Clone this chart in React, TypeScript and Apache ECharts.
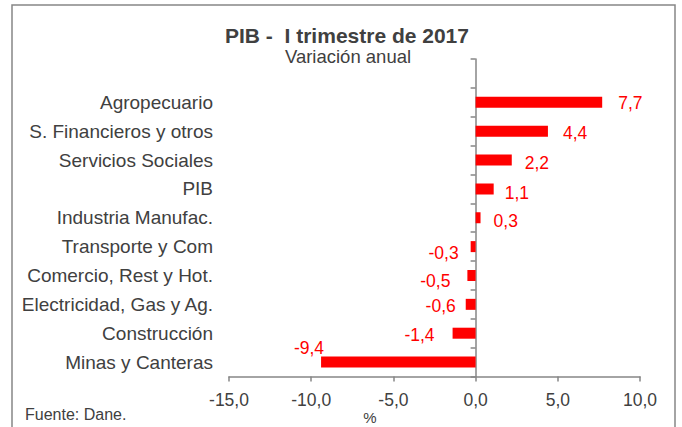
import React, { useEffect, useRef } from "react";
import * as echarts from "echarts";

const categories = [
  "",
  "Agropecuario",
  "S. Financieros y otros",
  "Servicios Sociales",
  "PIB",
  "Industria Manufac.",
  "Transporte y Com",
  "Comercio, Rest y Hot.",
  "Electricidad, Gas y Ag.",
  "Construcción",
  "Minas y Canteras",
];
const values: (number | null)[] = [null, 7.7, 4.4, 2.2, 1.1, 0.3, -0.3, -0.5, -0.6, -1.4, -9.4];
const xTicks = { min: -15, max: 10, interval: 5 };
const titleText = "PIB -  I trimestre de 2017";
const subtitleText = "Variación anual";
const sourceText = "Fuente: Dane.";
const axisUnit = "%";

// label placement style (Excel manual placement)
const labelDist = [0, 16, 15, 13, 11, 13, 12, 17, 10, 18, -3];
const labelDy = [0, 1, 2, 3, 4, 3, 6, 6, 2, 2, -14];

const FONT = "'Liberation Sans', Arial, sans-serif";
const TXT = "#404040";
const AX = "#868686";

const fmt = (v: number) => v.toFixed(1).replace(".", ",");

export default function App() {
  const ref = useRef<HTMLDivElement>(null);
  useEffect(() => {
    document.body.style.margin = "0";
    const chart = echarts.init(ref.current!, null, { renderer: "svg" });
    const data = values.map((v, i) =>
      v === null
        ? "-"
        : {
            value: v,
            label: {
              position: v >= 0 ? "right" : "left",
              distance: labelDist[i],
              offset: [0, labelDy[i]],
            },
          }
    );
    chart.setOption({
      animation: false,
      textStyle: { fontFamily: FONT },
      grid: { left: 229, right: 42, top: 59, bottom: 50.5, containLabel: false },
      xAxis: {
        type: "value",
        min: xTicks.min,
        max: xTicks.max,
        interval: xTicks.interval,
        splitLine: { show: false },
        axisLine: { show: true, onZero: false, lineStyle: { color: AX, width: 1.5 } },
        axisTick: { show: true, length: 5, lineStyle: { color: AX, width: 1.5 } },
        axisLabel: {
          formatter: (v: number) => fmt(v),
          color: TXT,
          fontSize: 17.5,
          fontFamily: FONT,
          margin: 14,
        },
      },
      yAxis: [
        {
          type: "category",
          data: categories,
          inverse: true,
          position: "left",
          axisLine: { show: false, onZero: false },
          axisTick: { show: false },
          splitLine: { show: false },
          axisLabel: { color: TXT, fontSize: 19, fontFamily: FONT, margin: 16 },
        },
        {
          type: "category",
          data: categories,
          inverse: true,
          position: "left",
          axisLine: { show: true, onZero: true, lineStyle: { color: AX, width: 1.5 } },
          axisTick: { show: true, length: 5, lineStyle: { color: AX, width: 1.5 } },
          axisLabel: { show: false },
          splitLine: { show: false },
        },
      ],
      series: [
        {
          type: "bar",
          yAxisIndex: 0,
          data,
          barWidth: 11,
          itemStyle: { color: "#ff0000" },
          label: {
            show: true,
            color: "#ff0000",
            fontSize: 17.5,
            fontFamily: FONT,
            formatter: (p: any) => fmt(p.value),
          },
        },
      ],
      graphic: [
        {
          type: "rect",
          shape: { x: 12, y: 5, width: 663, height: 460 },
          style: { fill: "none", stroke: AX, lineWidth: 1.5 },
          silent: true,
        },
        {
          type: "text",
          x: 347,
          y: 35,
          style: {
            text: titleText,
            fill: TXT,
            font: `bold 21px ${FONT}`,
            textAlign: "center",
            textVerticalAlign: "middle",
          },
        },
        {
          type: "text",
          x: 348,
          y: 56,
          style: {
            text: subtitleText,
            fill: TXT,
            font: `18.5px ${FONT}`,
            textAlign: "center",
            textVerticalAlign: "middle",
          },
        },
        {
          type: "text",
          x: 25,
          y: 414,
          style: {
            text: sourceText,
            fill: TXT,
            font: `16px ${FONT}`,
            textAlign: "left",
            textVerticalAlign: "middle",
          },
        },
        {
          type: "text",
          x: 370,
          y: 417,
          style: {
            text: axisUnit,
            fill: TXT,
            font: `15px ${FONT}`,
            textAlign: "center",
            textVerticalAlign: "middle",
          },
        },
      ],
    });
    return () => chart.dispose();
  }, []);
  return (
    <div
      ref={ref}
      style={{ position: "absolute", left: 0, top: 0, width: 682, height: 427, background: "#fff" }}
    />
  );
}
